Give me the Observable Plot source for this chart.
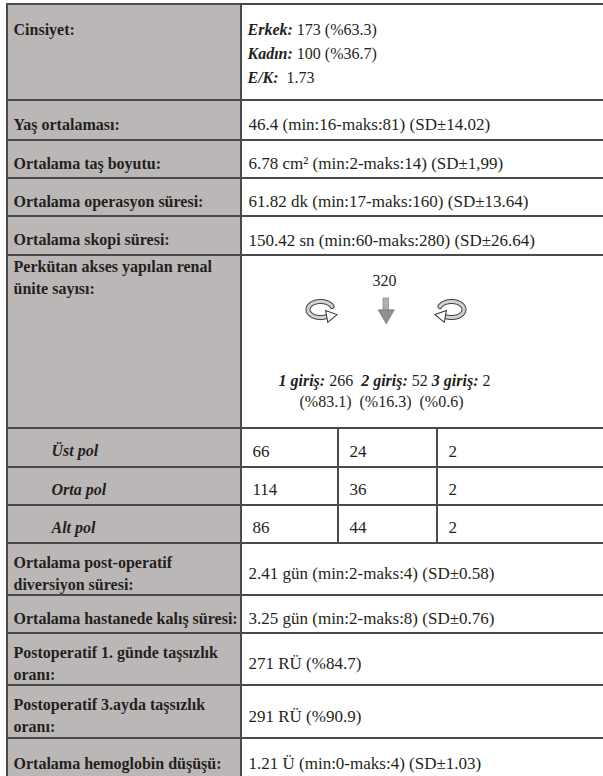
<!DOCTYPE html>
<html><head><meta charset="utf-8">
<script src="https://cdn.jsdelivr.net/npm/d3@7"></script>
<script src="https://cdn.jsdelivr.net/npm/@observablehq/plot@0.6"></script>
<style>
html,body{margin:0;padding:0;background:#fff;}
svg{display:block;}
svg text{white-space:pre;}
</style>
</head><body><div id="chart"></div>
<script>
// ---------------- data ----------------
const rowLabels = [
  "Cinsiyet:",
  "Yaş ortalaması:",
  "Ortalama taş boyutu:",
  "Ortalama operasyon süresi:",
  "Ortalama skopi süresi:",
  "Perkütan akses yapılan renal\nünite sayısı:",
  "Üst pol",
  "Orta pol",
  "Alt pol",
  "Ortalama post-operatif\ndiversiyon süresi:",
  "Ortalama hastanede kalış süresi:",
  "Postoperatif 1. günde taşsızlık\noranı:",
  "Postoperatif 3.ayda taşsızlık\noranı:",
  "Ortalama hemoglobin düşüşü:"
];
const rowKinds = ["gender","value","value","value","value","entries","pole","pole","pole","value","value","value","value","value"];
const rowValues = [
  "",
  "46.4 (min:16-maks:81) (SD±14.02)",
  "6.78 cm² (min:2-maks:14) (SD±1,99)",
  "61.82 dk (min:17-maks:160) (SD±13.64)",
  "150.42 sn (min:60-maks:280) (SD±26.64)",
  "", "", "", "",
  "2.41 gün (min:2-maks:4) (SD±0.58)",
  "3.25 gün (min:2-maks:8) (SD±0.76)",
  "271 RÜ (%84.7)",
  "291 RÜ (%90.9)",
  "1.21 Ü (min:0-maks:4) (SD±1.03)"
];
const genderTerms = ["Erkek:", "Kadın:", "E/K:"];
const genderValues = ["173 (%63.3)", "100 (%36.7)", " 1.73"];
const totalUnits = "320";
const entryTerms = ["1 giriş:", "2 giriş:", "3 giriş:"];
const entryCounts = ["266", "52", "2"];
const entryGaps = ["  ", " ", ""];
const entryShares = ["(%83.1)", "(%16.3)", "(%0.6)"];
const poleOneEntry = ["66", "114", "86"];
const poleTwoEntries = ["24", "36", "44"];
const poleThreeEntries = ["2", "2", "2"];

// ---------------- layout ----------------
const FONT = "'Liberation Serif', 'Times New Roman', serif";
const FS = 16;      // labels, gender lines, entry lines
const VS = 17;      // row values
const INK = "#231f20";
const GRAY = "#bcb7b7";
const LINE = "#4a4a4a";
const X0 = 7, XDIV = 241, XR = 615;
const SUBX = [241, 338, 437, XR];
const rowHeights = [96, 40, 38, 38, 39, 173, 39, 38, 38, 52, 38, 52, 53, 42];
const tops = [];
{ let acc = 4; for (const h of rowHeights) { tops.push(acc); acc += h; } }

const ctx = document.createElement("canvas").getContext("2d");
function tw(s, style, weight, size) {
  ctx.font = `${style} ${weight} ${size}px ${FONT}`;
  return ctx.measureText(s).width;
}

const cells = [];
const tBold = [], tBoldItalic = [], tRegular = [];
rowLabels.forEach((lab, i) => {
  const y1 = tops[i], y2 = tops[i] + rowHeights[i], mid = (y1 + y2) / 2;
  const kind = rowKinds[i];
  cells.push({x1: X0, x2: XDIV, y1, y2, gray: true});
  if (kind === "pole") {
    const cols = [poleOneEntry, poleTwoEntries, poleThreeEntries];
    for (let k = 0; k < 3; k++) {
      cells.push({x1: SUBX[k], x2: SUBX[k + 1], y1, y2, gray: false});
      tRegular.push({x: SUBX[k] + 11, y: mid + 1, text: cols[k][i - 6], anchor: "middle"});
    }
    tBoldItalic.push({x: 51, y: mid + 1, text: lab, anchor: "middle", size: FS});
    return;
  }
  cells.push({x1: XDIV, x2: XR, y1, y2, gray: false});
  if (kind === "gender") {
    tBold.push({x: 13, y: y1 + 23, text: lab, anchor: "middle"});
    genderTerms.forEach((t, k) => {
      const yy = y1 + 23 + 24 * k;
      tBoldItalic.push({x: 247, y: yy, text: t, anchor: "middle", size: FS});
      tRegular.push({x: 247 + tw(t, "italic", "bold", FS) + tw(" ", "normal", "normal", FS), y: yy, text: genderValues[k], anchor: "middle", size: FS});
    });
  } else if (kind === "entries") {
    tBold.push({x: 13, y: y1 + 1, text: lab, anchor: "top"});
    const cx = 384;
    tRegular.push({x: cx, y: y1 + 23, text: totalUnits, anchor: "middle", center: true, size: FS});
    const segs = [];
    entryTerms.forEach((t, k) => {
      segs.push({text: t, bi: true});
      segs.push({text: " " + entryCounts[k] + entryGaps[k], bi: false});
    });
    const widths = segs.map(s => s.bi ? tw(s.text, "italic", "bold", FS) : tw(s.text, "normal", "normal", FS));
    let x = cx - d3.sum(widths) / 2;
    const yy = y1 + 123;
    segs.forEach((s, k) => {
      (s.bi ? tBoldItalic : tRegular).push({x, y: yy, text: s.text, anchor: "middle", size: FS});
      x += widths[k];
    });
    tRegular.push({x: cx - 3, y: yy + 21, text: entryShares.join("  "), anchor: "middle", center: true, size: FS});
  } else {
    tBold.push({x: 13, y: mid + 2, text: lab, anchor: "middle"});
    tRegular.push({x: 248, y: mid + 2, text: rowValues[i], anchor: "middle"});
  }
});

// arrows inside the "entries" cell
const eTop = tops[5];
const acy = eTop + 54;
function loopPts(cx, dir) {
  return d3.range(22, 306, 4).map(t => {
    const a = t * Math.PI / 180;
    return {x: cx + dir * 12.5 * Math.cos(a), y: acy - 8 * Math.sin(a)};
  });
}
const leftLoop = loopPts(320, 1);
const rightLoop = loopPts(451, -1);
const lEnd = leftLoop[leftLoop.length - 1], rEnd = rightLoop[rightLoop.length - 1];
const heads = [
  {x: lEnd.x + 3, y: lEnd.y - 0.5, r: 80},
  {x: rEnd.x - 3, y: rEnd.y - 0.5, r: -80}
];

function textMarks(arr, style, size) {
  const out = [];
  for (const anchor of ["middle", "top"]) {
    for (const center of [false, true]) {
      const sub = arr.filter(d => d.anchor === anchor && !!d.center === center);
      if (!sub.length) continue;
      const groups = d3.group(sub, d => d.size || size);
      for (const [sz, g] of groups) {
        out.push(Plot.text(g, Object.assign({
          x: "x", y: "y", text: "text",
          fontFamily: FONT, fontSize: sz, fill: INK,
          textAnchor: center ? "middle" : "start",
          lineAnchor: anchor,
          lineHeight: 1.38
        }, style)));
      }
    }
  }
  return out;
}

const chart = Plot.plot({
  width: 603,
  height: 776,
  margin: 0,
  x: {type: "identity", axis: null},
  y: {type: "identity", axis: null},
  marks: [
    Plot.rect(cells, {x1: "x1", x2: "x2", y1: "y1", y2: "y2", fill: d => d.gray ? GRAY : "#ffffff", stroke: LINE, strokeWidth: 2}),
    Plot.line(leftLoop, {x: "x", y: "y", stroke: "#444", strokeWidth: 5}),
    Plot.line(leftLoop, {x: "x", y: "y", stroke: "#d2d2d2", strokeWidth: 3}),
    Plot.line(rightLoop, {x: "x", y: "y", stroke: "#444", strokeWidth: 5}),
    Plot.line(rightLoop, {x: "x", y: "y", stroke: "#d2d2d2", strokeWidth: 3}),
    Plot.dot(heads, {x: "x", y: "y", rotate: "r", symbol: "triangle", r: 4.5, fill: "#fff", stroke: "#333", strokeWidth: 1}),
    Plot.rect([{x1: 383, x2: 388.5, y1: acy - 11, y2: acy + 2}], {x1: "x1", x2: "x2", y1: "y1", y2: "y2", fill: "#b0b0b0", stroke: "#888", strokeWidth: 0.7}),
    Plot.dot([{x: 385.75, y: acy + 5}], {x: "x", y: "y", symbol: "triangle", rotate: 180, r: 6, fill: "#8f8f8f", stroke: "#777", strokeWidth: 0.7}),
    ...textMarks(tBold, {fontWeight: "bold"}, FS),
    ...textMarks(tBoldItalic, {fontWeight: "bold", fontStyle: "italic"}, FS),
    ...textMarks(tRegular, {}, VS)
  ]
});
document.getElementById("chart").appendChild(chart);
</script>
</body></html>
